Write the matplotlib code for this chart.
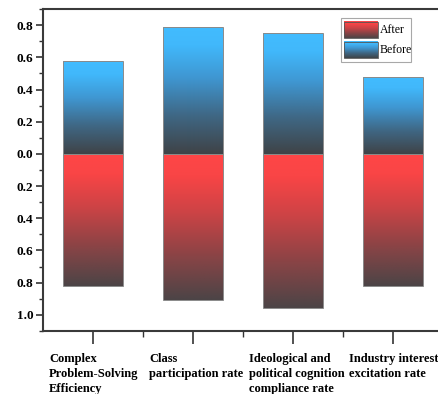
import numpy as np
import matplotlib.pyplot as plt
from matplotlib.colors import LinearSegmentedColormap
from matplotlib.patches import Rectangle
from matplotlib.ticker import MultipleLocator, FixedLocator, FuncFormatter

categories = ["Complex\nProblem-Solving\nEfficiency",
              "Class\nparticipation rate",
              "Ideological and\npolitical cognition\ncompliance rate",
              "Industry interest\nexcitation rate"]
before = [0.58, 0.79, 0.75, 0.48]   # drawn upward
after = [0.82, 0.91, 0.96, 0.82]    # drawn downward

plt.rcParams["font.family"] = ["Liberation Serif", "DejaVu Serif"]

# dark at the bottom of each bar, bright towards the top
blue_cm = LinearSegmentedColormap.from_list(
    "blue_fade", [(0.0, "#3f4347"), (0.3, "#3f6784"), (0.6, "#3f97d2"),
                  (0.85, "#41b8fb"), (1.0, "#42bcff")])
red_cm = LinearSegmentedColormap.from_list(
    "red_fade", [(0.0, "#4c4446"), (0.3, "#8a4446"), (0.6, "#cd4345"),
                 (0.85, "#f94546"), (1.0, "#ff4646")])
grad = np.linspace(0, 1, 256).reshape(-1, 1)

fig = plt.figure(figsize=(4.38, 3.94), dpi=100)
ax = fig.add_axes([0.098, 0.160, 0.913, 0.817])
x = np.arange(len(categories))


def gradient_bars(xs, heights, cmap):
    bars = ax.bar(xs, heights, width=0.6, facecolor="none",
                  edgecolor="#8a8a8a", linewidth=0.7, zorder=3)
    for b in bars:
        x0, y0, w, h = b.get_x(), b.get_y(), b.get_width(), b.get_height()
        lo, hi = min(y0, y0 + h), max(y0, y0 + h)
        im = ax.imshow(grad, cmap=cmap, origin="lower", aspect="auto",
                       extent=[x0, x0 + w, lo, hi], zorder=2)
        im.set_clip_path(b)
    return bars


gradient_bars(x, before, blue_cm)
gradient_bars(x, -np.array(after), red_cm)

# legend drawn by hand so the swatches keep the gradient fill
ax.add_patch(Rectangle((0.745, 0.835), 0.175, 0.137, transform=ax.transAxes,
                       facecolor="white", edgecolor="#a8a8a8", lw=0.8, zorder=5))
for (y_lo, y_hi, cmap, name) in [(0.911, 0.961, red_cm, "After"),
                                 (0.847, 0.898, blue_cm, "Before")]:
    ax.imshow(grad, cmap=cmap, origin="lower", aspect="auto",
              extent=[0.7525, 0.837, y_lo, y_hi], transform=ax.transAxes, zorder=6)
    ax.add_patch(Rectangle((0.7525, y_lo), 0.0845, y_hi - y_lo, transform=ax.transAxes,
                           facecolor="none", edgecolor="#555555", lw=0.6, zorder=7))
    ax.text(0.843, (y_lo + y_hi) / 2, name, transform=ax.transAxes, fontsize=8.5,
            va="center", ha="left", zorder=7)

ax.set_xlim(-0.5, 3.5)

ax.yaxis.set_major_locator(MultipleLocator(0.2))
ax.yaxis.set_minor_locator(MultipleLocator(0.1))
ax.yaxis.set_major_formatter(FuncFormatter(lambda v, p: f"{abs(v):.1f}"))
ax.set_ylim(-1.1, 0.9)
ax.xaxis.set_major_locator(FixedLocator(x))
ax.xaxis.set_minor_locator(FixedLocator(x[:-1] + 0.5))
ax.set_xticklabels([])

ax.tick_params(axis="y", which="major", direction="out", length=5, width=1.2,
               color="#333333", labelsize=9.5, pad=2)
ax.tick_params(axis="y", which="minor", direction="out", length=3, width=1.0, color="#333333")
ax.tick_params(axis="x", which="major", direction="out", length=9, width=1.2, color="#333333")
ax.tick_params(axis="x", which="minor", direction="out", length=4, width=1.0, color="#333333")
for lab in ax.get_yticklabels():
    lab.set_fontweight("bold")

for side in ["left", "bottom", "top"]:
    ax.spines[side].set_color("#3a3a3a")
    ax.spines[side].set_linewidth(1.5)
ax.spines["right"].set_visible(False)

for xi, name in zip(x, categories):
    ax.annotate(name, xy=(xi - 0.44, 0), xycoords=("data", "axes fraction"),
                xytext=(0, -16), textcoords="offset points", ha="left", va="top",
                fontsize=9, fontweight="bold", linespacing=1.3)

fig.savefig("out.png", dpi=100)
